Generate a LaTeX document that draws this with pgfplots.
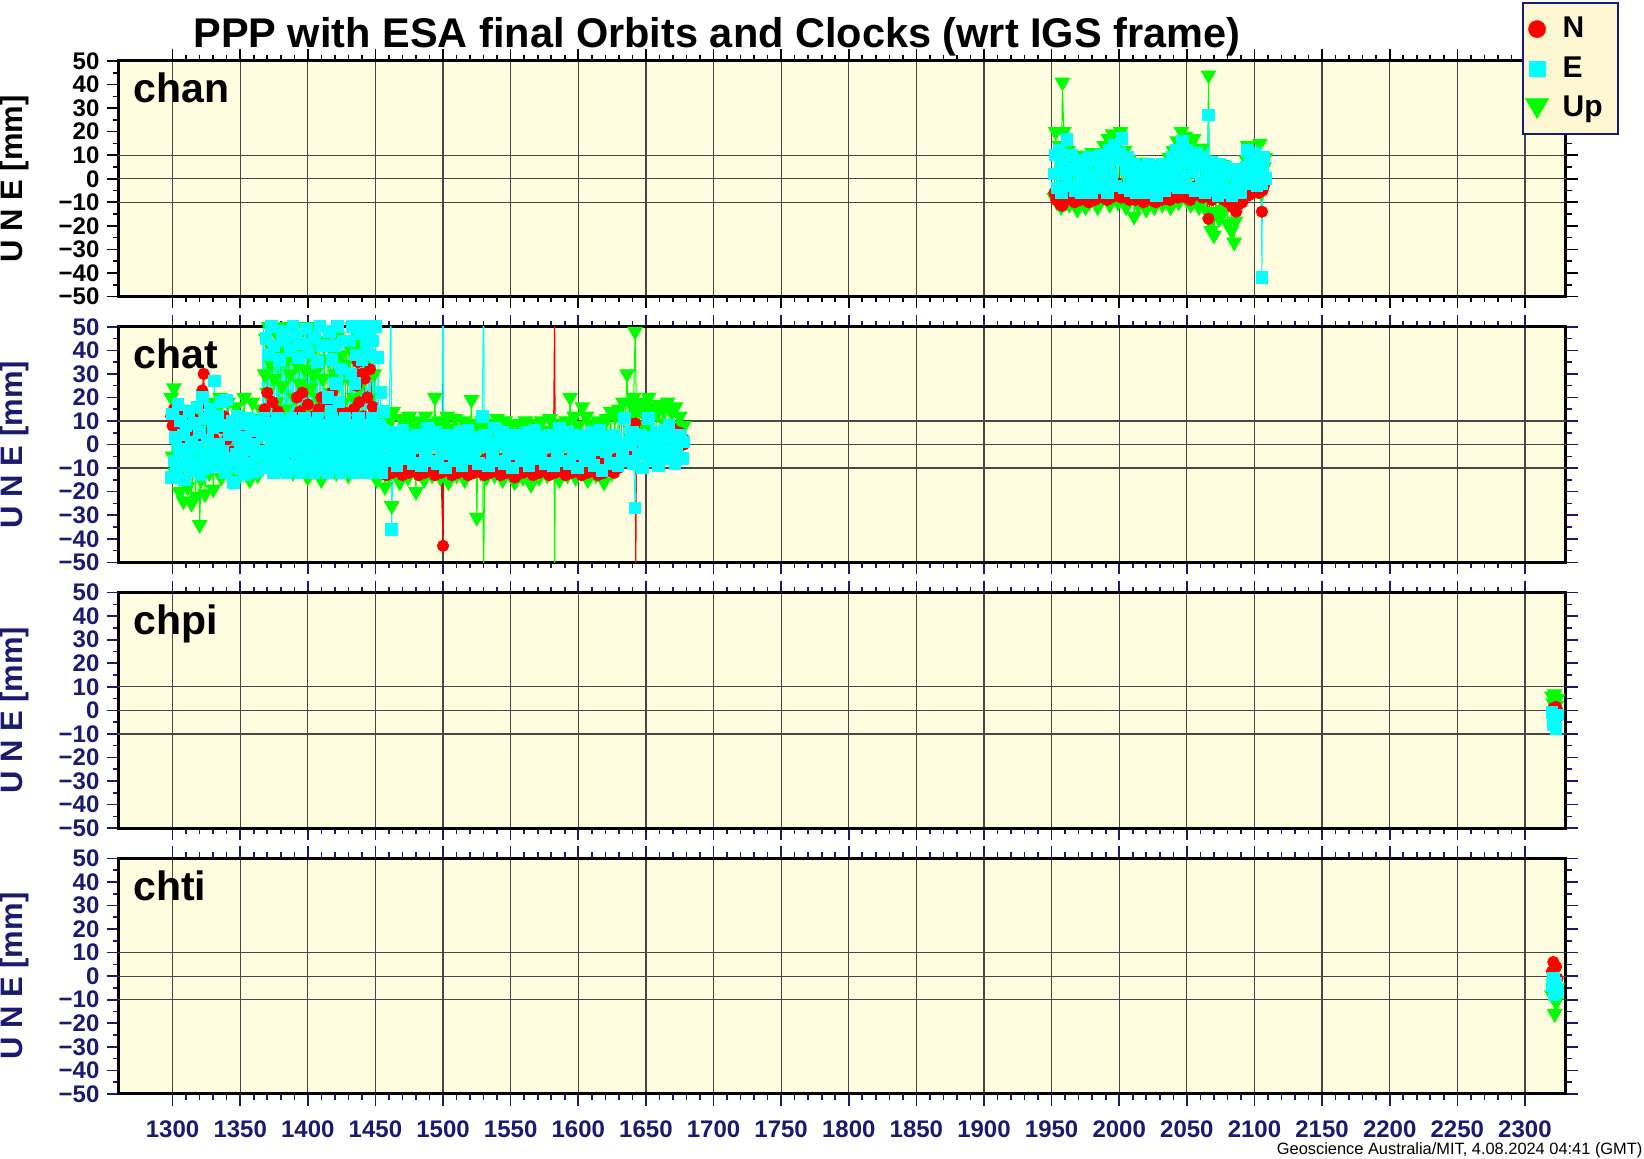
\documentclass[border=0pt]{standalone}
\usepackage{fontspec}
\setmainfont{Liberation Sans}
\usepackage{pgfplots}
\pgfplotsset{compat=1.18}

\definecolor{navy}{RGB}{26,26,110}
\definecolor{bg}{RGB}{255,253,224}
\definecolor{legbg}{RGB}{253,248,210}
\definecolor{nred}{RGB}{255,0,0}
\definecolor{ecyan}{RGB}{0,255,255}
\definecolor{ugreen}{RGB}{0,255,0}

\tikzset{site/.style={anchor=base west, inner sep=0pt, font=\fontsize{20.5}{20.5}\selectfont\bfseries}}
\pgfplotsset{
  panel/.style={
    scale only axis, width=723.5pt, height=117.75pt,
    anchor=north west,
    xmin=1260, xmax=2330, ymin=-50, ymax=50,
    xtick={1300,1350,...,2300}, minor x tick num=4,
    ytick={-50,-40,...,50}, minor y tick num=1,
    yticklabels={−50,−40,−30,−20,−10,0,10,20,30,40,50},
    xticklabels={},
    tick align=outside,
    major tick length=6pt, minor tick length=3pt,
    tick style={line width=0.8pt, color=#1},
    xmajorgrids,
    major grid style={line width=0.6pt, black!72},
    extra y ticks={-10,0,10}, extra y tick labels={},
    extra y tick style={grid=major},
    axis line style={line width=1.5pt, black},
    axis background/.style={fill=bg},
    tick label style={font=\fontsize{12}{12}\selectfont\bfseries, text=#1},
    xticklabel style={yshift=-4pt},
    ylabel={U N E [mm]},
    ylabel style={at={(axis description cs:-0.0722,0.5)}, anchor=center,
      font=\fontsize{15.5}{15.5}\selectfont\bfseries, text=#1},
  },
  nser/.style={nred, line width=0.5pt, mark=*, mark size=2.8pt, mark options={solid}},
  eser/.style={ecyan, line width=0.5pt, mark=square*, mark size=2.9pt, mark options={solid}},
  user/.style={ugreen, line width=0.5pt, mark=triangle*, mark size=4.1pt, mark options={solid, rotate=180}},
}

\begin{document}
\begin{tikzpicture}
\useasboundingbox (0,0) rectangle (822pt,579pt);

% ---------- chan ----------
\begin{axis}[panel=black, at={(59.25pt,548.5pt)},
  legend style={at={(axis description cs:0.9697,1.2516)}, anchor=north west,
    draw=navy, line width=1pt, fill=legbg, inner xsep=1.2pt, inner ysep=3.3pt,
    row sep=0pt, column sep=0pt, nodes={inner sep=0pt},
    font=\fontsize{15}{15}\selectfont\bfseries, cells={anchor=west}},
  legend image code/.code={\path[draw=none,fill=none] (-6pt,-9.875pt) rectangle (12.8pt,9.875pt);
    \draw[mark repeat=1,mark phase=1,#1] plot coordinates {(0pt,0pt)};},
]
\addlegendimage{only marks, nred, mark=*, mark size=4.3pt, mark options={line width=0.2pt}}
\addlegendentry{\makebox[26.3pt][l]{N}}
\addlegendimage{only marks, ecyan, mark=square*, mark size=3.9pt, mark options={line width=0.2pt}}
\addlegendentry{\makebox[26.3pt][l]{E}}
\addlegendimage{only marks, ugreen, mark=triangle*, mark size=6.8pt, mark options={line width=0.2pt, rotate=180, yshift=-1.5pt}}
\addlegendentry{\makebox[26.3pt][l]{Up}}

\addplot[user, forget plot] coordinates {
(1952,-8) (1953,20) (1954,-10) (1956,14) (1957,-12) (1958,41) (1959,20) (1960,-6)
(1962,12) (1963,-11) (1965,8) (1966,-9) (1968,6) (1969,-13) (1971,10) (1972,-8)
(1974,4) (1975,-12) (1977,7) (1978,-10) (1980,11) (1981,-7) (1983,5) (1984,-12)
(1986,9) (1987,-9) (1989,14) (1990,-6) (1992,17) (1993,-11) (1995,19) (1996,-8)
(1998,15) (1999,-10) (2001,20) (2002,-7) (2004,12) (2005,-12) (2007,8) (2008,-9)
(2010,6) (2011,-16) (2013,4) (2014,-11) (2016,7) (2017,-8) (2019,3) (2020,-13)
(2022,6) (2023,-10) (2025,5) (2026,-12) (2028,2) (2029,-9) (2031,6) (2032,-11)
(2034,4) (2035,-8) (2037,9) (2038,-12) (2040,12) (2041,-7) (2043,16) (2044,-10)
(2046,20) (2047,-6) (2049,18) (2050,-9) (2052,14) (2053,-11) (2055,17) (2056,-8)
(2058,10) (2059,-12) (2061,13) (2062,-10) (2064,8) (2065,-14) (2066,44) (2067,-18)
(2068,-22) (2069,4) (2070,-24) (2071,-14) (2073,2) (2074,-17) (2076,6) (2077,-13)
(2079,3) (2080,-19) (2082,1) (2083,-22) (2085,-27) (2086,-18) (2088,-10) (2090,-5)
(2094,8) (2095,14) (2097,4) (2099,10) (2101,2) (2103,8) (2104,15) (2105,-6)
(2107,5) (2108,9)};
\addplot[nser, forget plot] coordinates {
(1952,-6) (1953.5,-9) (1955,-4) (1956.5,-11) (1958,-11.5) (1959.5,-6) (1961,-9) (1962.5,-4)
(1964,-8) (1965.5,-5) (1967,-10) (1968.5,-3) (1970,-7) (1971.5,-9) (1973,-4) (1974.5,-8)
(1976,-6) (1977.5,-10) (1979,-3) (1980.5,-7) (1982,-9) (1983.5,-5) (1985,-8) (1986.5,-4)
(1988,-7) (1989.5,-3) (1991,-9) (1992.5,-6) (1994,-8) (1995.5,-4) (1997,-7) (1998.5,-2)
(2000,-6) (2001.5,-8) (2003,-4) (2004.5,-7) (2006,-5) (2007.5,-9) (2009,-3) (2010.5,-7)
(2012,-9) (2013.5,-5) (2015,-8) (2016.5,-6) (2018,-10) (2019.5,-4) (2021,-8) (2022.5,-6)
(2024,-9) (2025.5,-5) (2027,-10) (2028.5,-7) (2030,-4) (2031.5,-9) (2033,-6) (2034.5,-8)
(2036,-5) (2037.5,-9) (2039,-3) (2040.5,-7) (2042,-5) (2043.5,-8) (2045,-4) (2046.5,-7)
(2048,-3) (2049.5,-8) (2051,-5) (2052.5,-9) (2054,-4) (2055.5,-7) (2057,-3) (2058.5,-6)
(2060,-4) (2061.5,-8) (2063,-3) (2064.5,-6) (2066,-17) (2067,-5) (2068.5,-9) (2070,-4)
(2071.5,-7) (2073,-3) (2074.5,-8) (2076,-5) (2077.5,-9) (2079,-4) (2080.5,-10) (2082,-7)
(2083.5,-12) (2085,-9) (2086.5,-14) (2088,-11) (2089.5,-7) (2091,-10)
(2094,-3) (2095,-6) (2096,-7) (2097,-1) (2098,0) (2099,-5) (2100,-4) (2101,1)
(2102,-2) (2103,-6) (2104,-2) (2105.5,-14) (2106,-5) (2107,-3) (2108,-1)};
\addplot[eser, forget plot] coordinates {
(1952,2) (1953,10) (1954.5,-4) (1956,12) (1957.5,-6) (1959,6) (1960.5,1) (1961.5,16.6)
(1963,-3) (1964.5,10) (1966,4) (1967.5,-5) (1969,8) (1970.5,0) (1972,-6) (1973.5,7)
(1975,3) (1976.5,-3) (1978,9) (1979.5,-6) (1981,1) (1982.5,8) (1984,-4) (1985.5,4)
(1987,10) (1988.5,-2) (1990,6) (1991.5,-6) (1993,12) (1994.5,2) (1996,14) (1997.5,-3)
(1999,8) (2000.5,11) (2002,17) (2003.5,-4) (2005,4) (2006.5,9) (2008,-5) (2009.5,0)
(2011,6) (2012.5,-6) (2014,3) (2015.5,-2) (2017,5) (2018.5,-6) (2020,2) (2021.5,6)
(2023,-4) (2024.5,0) (2026,5) (2027.5,-7) (2029,2) (2030.5,-3) (2032,6) (2033.5,-5)
(2035,1) (2036.5,5) (2038,-3) (2039.5,9) (2041,2) (2042.5,12) (2044,-4) (2045.5,7)
(2047,16) (2048.5,1) (2050,12) (2051.5,-4) (2053,8) (2054.5,3) (2056,-5) (2057.5,11)
(2059,6) (2060.5,-2) (2062,9) (2063.5,-6) (2065,4) (2066,27) (2067,-1) (2068.5,7)
(2070,-5) (2071.5,3) (2073,-7) (2074.5,6) (2076,0) (2077.5,-4) (2079,5) (2080.5,-6)
(2082,2) (2083.5,-7) (2085,4) (2086.5,-3) (2088,1) (2089.5,-6) (2091,-2)
(2094,5) (2095,12) (2096,2) (2097,10) (2098,-2) (2099,8) (2100,4) (2101,11)
(2102,-3) (2103,7) (2104,1) (2105,-2) (2105.5,-42) (2106,4) (2107,9) (2108,0)};
\node[site] at (rel axis cs:0.01,0.822) {chan};
\end{axis}

% ---------- chat ----------
\begin{axis}[panel=navy, at={(59.25pt,415.6pt)}]
\addplot[user] coordinates {
(1299,20) (1300,-5) (1301,24) (1302,-12) (1304,10) (1305,-20) (1306,15) (1308,-24)
(1309,5) (1311,-18) (1312,12) (1314,-25) (1316,8) (1317,-22) (1319,16) (1320,-34)
(1321,-15) (1323,10) (1324,-21) (1326,18) (1327,-12) (1329,6) (1330,-19) (1332,14)
(1333,-8) (1335,20) (1336,-14) (1338,10) (1339,-6) (1341,18) (1342,-13) (1344,8)
(1345,-10) (1347,16) (1348,-15) (1350,12) (1351,-4) (1353,20) (1354,-12) (1356,9)
(1357,-15) (1359,18) (1360,-7) (1362,11) (1363,-13) (1365,15) (1366,-5) (1368,30)
(1369,45) (1370,22) (1371,50) (1372,35) (1373,-5) (1374,40) (1375,28) (1376,48)
(1377,18) (1378,38) (1379,-10) (1380,42) (1381,25) (1382,50) (1383,15) (1384,36)
(1385,-8) (1386,44) (1387,30) (1388,12) (1389,-12) (1390,20) (1391,-6) (1392,34)
(1393,46) (1394,26) (1395,-4) (1396,40) (1397,50) (1398,32) (1399,15) (1400,-14)
(1401,38) (1402,24) (1403,48) (1404,30) (1405,-8) (1406,42) (1407,20) (1408,50)
(1409,34) (1410,-15) (1411,28) (1412,44) (1413,16) (1414,-10) (1415,36) (1416,48)
(1417,22) (1418,-6) (1419,40) (1420,30) (1421,-12) (1422,46) (1423,26) (1424,-4)
(1425,38) (1426,18) (1427,-9) (1428,34) (1429,44) (1430,-13) (1431,28) (1432,40)
(1433,50) (1434,20) (1435,-7) (1436,36) (1437,46) (1438,24) (1439,-10) (1440,42)
(1441,50) (1442,30) (1443,-5) (1444,48) (1445,38) (1446,60) (1447,20) (1448,-12)
(1449,30) (1450,10) (1451,-15) (1452,8) (1454,-10) (1455,12) (1457,-18) (1458,6)
(1460,-13) (1461,10) (1462,-26) (1463,14) (1465,-12) (1466,5) (1468,-16) (1469,11)
(1471,-9) (1472,8) (1474,-14) (1475,12) (1477,-11) (1478,7) (1480,-20) (1481,10)
(1483,-12) (1484,6) (1486,-15) (1487,12) (1489,-10) (1490,9) (1492,-13) (1494,20)
(1495,-8) (1497,10) (1498,-14) (1500,8) (1501,-11) (1503,12) (1504,-16) (1506,7)
(1507,-10) (1509,11) (1510,-13) (1512,6) (1513,-9) (1515,10) (1516,-15) (1518,8)
(1519,-12) (1521,19) (1522,-10) (1524,9) (1525,-31) (1526,6) (1528,-12) (1529,10)
(1530,-60) (1531,8) (1532,-14) (1534,9) (1535,-10) (1537,7) (1538,-13) (1540,11)
(1541,-9) (1543,6) (1544,-15) (1546,10) (1547,-11) (1549,8) (1550,-13) (1552,5)
(1553,-16) (1555,9) (1556,-10) (1558,7) (1559,-14) (1561,10) (1562,-12) (1564,6)
(1565,-17) (1567,9) (1568,-11) (1570,8) (1571,-14) (1573,10) (1574,-9) (1576,6)
(1577,-13) (1579,11) (1580,-10) (1582,8) (1582.5,-60) (1583,-12) (1585,9) (1586,-15)
(1588,7) (1589,-11) (1591,10) (1592,-13) (1594,20) (1595,-9) (1597,12) (1598,-14)
(1600,8) (1601,-11) (1603,16) (1604,-10) (1606,12) (1607,-15) (1609,9) (1610,-12)
(1612,7) (1613,-13) (1615,10) (1616,-9) (1618,8) (1619,-16) (1621,11) (1622,-10)
(1624,14) (1625,-12) (1627,12) (1628,-6) (1630,15) (1631,-4) (1633,18) (1634,-2)
(1636,30) (1637,12) (1639,17) (1640,2) (1641,20) (1642,48) (1643,14) (1645,8)
(1646,18) (1648,4) (1649,15) (1651,10) (1652,20) (1654,6) (1655,16) (1657,2)
(1658,13) (1660,17) (1661,5) (1663,15) (1664,9) (1666,18) (1667,3) (1669,14)
(1670,8) (1672,16) (1673,5) (1675,12) (1676,2) (1678,8)};
\addplot[nser] coordinates {
(1299,12) (1300,8) (1301,15) (1303,5) (1305,10) (1307,2) (1309,14) (1311,-2)
(1313,6) (1315,11) (1317,0) (1319,16) (1321,4) (1322,23) (1323,30) (1324,12)
(1326,5) (1328,14) (1330,3) (1332,9) (1334,-1) (1336,7) (1338,12) (1340,2)
(1342,8) (1344,-3) (1346,10) (1348,4) (1350,12) (1352,0) (1354,6) (1356,-4)
(1358,9) (1360,2) (1362,5) (1364,-2) (1366,8) (1368,15) (1370,22) (1372,10)
(1374,18) (1376,6) (1378,14) (1380,-4) (1382,2) (1384,-8) (1386,0) (1388,-6)
(1390,8) (1392,20) (1394,14) (1396,22) (1398,10) (1400,17) (1402,6) (1404,12)
(1406,4) (1408,15) (1410,20) (1412,8) (1414,18) (1416,11) (1418,22) (1420,9)
(1422,16) (1424,6) (1426,14) (1428,2) (1430,10) (1432,4) (1434,15) (1436,25)
(1437,35) (1438,18) (1440,30) (1441,12) (1442,28) (1444,20) (1446,32) (1448,16)
(1450,8) (1452,-2) (1453.5,-7) (1455,-11) (1456.5,-9) (1458,-13) (1459.5,-6) (1461,-10)
(1462.5,-12) (1464,-8) (1465.5,-7) (1467,-11) (1468.5,-9) (1470,-13) (1471.5,-6) (1473,-10)
(1474.5,-12) (1476,-8) (1477.5,-7) (1479,-11) (1480.5,-9) (1482,-13) (1483.5,-6) (1485,-10)
(1486.5,-12) (1488,-8) (1489.5,-7) (1491,-11) (1492.5,-9) (1494,-13) (1495.5,-6) (1497,-10)
(1498.5,-12) (1500,-43) (1500.5,-8) (1502,-7) (1503.5,-11) (1505,-9) (1506.5,-13) (1508,-6)
(1509.5,-10) (1511,-12) (1512.5,-8) (1514,-7) (1515.5,-11) (1517,-9) (1518.5,-13) (1520,-6)
(1521.5,-10) (1523,-12) (1524.5,-8) (1526,-7) (1527.5,-11) (1529,-9) (1530.5,-13) (1532,-6)
(1533.5,-10) (1535,-12) (1536.5,-8) (1538,-7) (1539.5,-11) (1541,-9) (1542.5,-13) (1544,-6)
(1545.5,-10) (1547,-12) (1548.5,-8) (1550,-7) (1551.5,-11) (1553,-14) (1554.5,-13) (1556,-6)
(1557.5,-10) (1559,-12) (1560.5,-8) (1562,-7) (1563.5,-11) (1565,-9) (1566.5,-13) (1568,-6)
(1569.5,-10) (1571,-12) (1572.5,-8) (1574,-7) (1575.5,-11) (1577,-9) (1578.5,-13) (1580,-6)
(1581.5,-10) (1582.5,60) (1583,-12) (1584.5,-8) (1586,-7) (1587.5,-11) (1589,-9) (1590.5,-13)
(1592,-6) (1593.5,-10) (1595,-12) (1596.5,-8) (1598,-7) (1599.5,-11) (1601,-9) (1602.5,-13)
(1604,-6) (1605.5,-10) (1607,-12) (1608.5,-8) (1610,-7) (1611.5,-11) (1613,-9) (1614.5,-13)
(1616,-6) (1617.5,-10) (1619,-12) (1620.5,-8) (1622,-7) (1623.5,-11) (1625,-9) (1626.5,-12)
(1628,-6) (1629.5,-10) (1631,-8) (1632.5,-5) (1634,-7) (1635.5,-3) (1637,-5) (1638.5,-1)
(1640,2) (1641,3) (1642,9) (1642.5,-60) (1643,-4) (1645,-1) (1647,2) (1649,-3)
(1651,1) (1653,-2) (1655,0) (1657,3) (1659,-1) (1661,2) (1663,-3) (1665,4)
(1667,5) (1669,7) (1671,6) (1673,4) (1675,5) (1677,3) (1678,0)};
\addplot[eser] coordinates {
(1299,-14) (1300,13) (1301,-7) (1302,3) (1303,-12) (1304,17) (1305,-2) (1306,10)
(1307,-9) (1308,4) (1309,-15) (1310,8) (1311,-3) (1312,14) (1313,-6) (1314,1)
(1315,-11) (1316,9) (1317,-1) (1318,16) (1319,-8) (1320,5) (1321,-13) (1322,20)
(1323,-4) (1324,11) (1325,-7) (1326,2) (1327,-10) (1328,15) (1329,-2) (1330,7)
(1331,27) (1332,-5) (1333,12) (1334,0) (1335,-9) (1336,18) (1337,-3) (1338,8)
(1339,-12) (1340,19) (1341,-6) (1342,4) (1343,-9) (1344,10) (1345,-16) (1346,6)
(1347,-4) (1348,12) (1349,-10) (1350,1) (1351,-7) (1352,9) (1353,-13) (1354,3)
(1355,-2) (1356,11) (1357,-8) (1358,6) (1359,-12) (1360,0) (1361,8) (1362,-5)
(1363,-11) (1364,10) (1365,-3) (1366,4)
(1367,52) (1367.5,11) (1368,6) (1368.5,-10) (1369,45) (1369.5,4) (1370,-4) (1370.5,-3)
(1371,38) (1371.5,8) (1372,9) (1372.5,-7) (1373,50) (1373.5,1) (1374,-8) (1374.5,-12)
(1375,42) (1375.5,6) (1376,2) (1376.5,-1) (1377,55) (1377.5,11) (1378,-2) (1378.5,-10)
(1379,36) (1379.5,4) (1380,7) (1380.5,-3) (1381,48) (1381.5,8) (1382,-6) (1382.5,-7)
(1383,44) (1383.5,1) (1384,3) (1384.5,-12) (1385,53) (1385.5,6) (1386,-9) (1386.5,-1)
(1387,40) (1387.5,11) (1388,5) (1388.5,-10) (1389,50) (1389.5,4) (1390,-3) (1390.5,-3)
(1391,46) (1391.5,8) (1392,10) (1392.5,-7) (1393,37) (1393.5,1) (1394,-7) (1394.5,-12)
(1395,52) (1395.5,6) (1396,1) (1396.5,-1) (1397,43) (1397.5,11) (1398,8) (1398.5,-10)
(1399,49) (1399.5,4) (1400,-5) (1400.5,-3) (1401,39) (1401.5,8) (1402,4) (1402.5,-7)
(1403,54) (1403.5,1) (1404,-1) (1404.5,-12) (1405,45) (1405.5,6) (1406,9) (1406.5,-1)
(1407,35) (1407.5,11) (1408,-8) (1408.5,-10) (1409,50) (1409.5,4) (1410,3) (1410.5,-3)
(1411,42) (1411.5,8) (1412,-4) (1412.5,-7) (1413,6) (1413.5,1) (1414,-9) (1414.5,-12)
(1415,20) (1415.5,6) (1416,48) (1416.5,-1) (1417,14) (1417.5,11) (1418,36) (1418.5,-10)
(1419,-6) (1419.5,4) (1420,42) (1420.5,-3) (1421,26) (1421.5,8) (1422,50) (1422.5,-7)
(1423,18) (1423.5,1) (1424,-4) (1424.5,-12) (1425,32) (1425.5,6) (1426,44) (1426.5,-1)
(1427,8) (1427.5,11) (1428,-7) (1428.5,-10) (1429,5) (1429.5,4) (1430,-10) (1430.5,-3)
(1431,44) (1431.5,8) (1432,30) (1432.5,-7) (1433,50) (1433.5,1) (1434,-5) (1434.5,-12)
(1435,26) (1435.5,6) (1436,38) (1436.5,-1) (1437,-3) (1437.5,11) (1438,47) (1438.5,-10)
(1439,6) (1439.5,4) (1440,36) (1440.5,-3) (1441,50) (1441.5,8) (1442,-8) (1442.5,-7)
(1443,42) (1443.5,1) (1444,3) (1444.5,-12) (1445,48) (1445.5,6) (1446,38) (1446.5,-1)
(1447,-6) (1447.5,11) (1448,44) (1448.5,-10) (1449,1) (1449.5,4) (1450,50) (1450.5,-3)
(1451,-4) (1451.5,8) (1452,37) (1452.5,-7) (1453,8) (1453.5,1) (1454,22) (1454.5,-12)
(1455,-6) (1455.5,6) (1456,14)
(1457,4) (1458.5,-7) (1460,0) (1461.5,70) (1462,-36) (1463,-4) (1464.5,5) (1466,-9)
(1467.5,-2) (1469,2) (1470.5,6) (1472,-6) (1473.5,1) (1475,-3) (1476.5,3) (1478,-8)
(1479.5,-1) (1481,4) (1482.5,3) (1484,-9) (1485.5,-1) (1487,-5) (1488.5,7) (1490,-7)
(1491.5,0) (1493,1) (1494.5,5) (1496,-8) (1497.5,2) (1499,-4) (1500,70) (1500.5,4)
(1502,-10) (1503.5,-2) (1505,3) (1506.5,4) (1508,-7) (1509.5,0) (1511,-4) (1512.5,5)
(1514,-9) (1515.5,-2) (1517,2) (1518.5,6) (1520,-6) (1521.5,1) (1523,-3) (1524.5,3)
(1526,-8) (1527.5,-1) (1529,12) (1530,70) (1530.5,4) (1532,3) (1533.5,-9) (1535,-1)
(1536.5,-5) (1538,7) (1539.5,-7) (1541,0) (1542.5,1) (1544,5) (1545.5,-8) (1547,2)
(1548.5,-4) (1550,4) (1551.5,-10) (1553,-2) (1554.5,3) (1556,4) (1557.5,-7) (1559,0)
(1560.5,-4) (1562,5) (1563.5,-9) (1565,-2) (1566.5,2) (1568,6) (1569.5,-6) (1571,1)
(1572.5,-3) (1574,3) (1575.5,-8) (1577,-1) (1578.5,4) (1580,3) (1581.5,-9) (1583,-1)
(1584.5,-5) (1586,7) (1587.5,-7) (1589,0) (1590.5,1) (1592,5) (1593.5,-8) (1595,2)
(1596.5,-4) (1598,4) (1599.5,-10) (1601,-2) (1602.5,3) (1604,4) (1605.5,-7) (1607,0)
(1608.5,-4) (1610,5) (1611.5,-9) (1613,-2) (1614.5,2) (1616,6) (1617.5,-11) (1619,1)
(1620.5,-3) (1622,3) (1623.5,-8) (1625,-1) (1626.5,4) (1628,3) (1629.5,-9) (1631,-1)
(1632.5,-5) (1634,11) (1635.5,-7) (1637,0) (1638.5,1) (1640,5) (1641,-8) (1642,-27)
(1643,2) (1644.5,-4) (1646,4) (1647.5,-10) (1649,-2) (1650.5,3) (1652,11) (1653.5,-7)
(1655,0) (1656.5,-4) (1658,5) (1659.5,-9) (1661,-2) (1662.5,2) (1664,6) (1665.5,-6)
(1667,8) (1668.5,-3) (1670,3) (1671.5,-8) (1673,-1) (1674.5,4) (1676,3) (1677,-6)
(1678,1)};
\node[site] at (rel axis cs:0.01,0.822) {chat};
\end{axis}

% ---------- chpi ----------
\begin{axis}[panel=navy, at={(59.25pt,282.7pt)}]
\addplot[user] coordinates {(2320,6) (2321,3) (2322,7) (2323,2) (2324,5)};
\addplot[nser] coordinates {(2320,0) (2321,1) (2322,0.5) (2323,1.5) (2324,0)};
\addplot[eser] coordinates {(2320,-1) (2321,-6) (2322,-3) (2323,-8) (2324,-2)};
\node[site] at (rel axis cs:0.01,0.822) {chpi};
\end{axis}

% ---------- chti ----------
\begin{axis}[panel=navy, at={(59.25pt,149.8pt)},
  xticklabels={1300,1350,1400,1450,1500,1550,1600,1650,1700,1750,1800,1850,1900,1950,2000,2050,2100,2150,2200,2250,2300},
]
\addplot[user] coordinates {(2320,-8) (2321,-3) (2322,-16) (2323,-11) (2324,-5)};
\addplot[nser] coordinates {(2320,2) (2321,6) (2322,0) (2323,4) (2324,-1)};
\addplot[eser] coordinates {(2320,-4) (2321,-1) (2322,-8) (2323,-3) (2324,-6)};
\node[site] at (rel axis cs:0.01,0.822) {chti};
\end{axis}

\node[anchor=base west, inner sep=0pt, font=\fontsize{20.75}{20.75}\selectfont\bfseries]
  at (96.5pt,555pt) {PPP with ESA final Orbits and Clocks (wrt IGS frame)};
\node[anchor=base east, font=\fontsize{8.2}{8.2}\selectfont, inner sep=0pt]
  at (821.4pt,2pt) {Geoscience Australia/MIT, 4.08.2024 04:41 (GMT)};
\end{tikzpicture}
\end{document}
